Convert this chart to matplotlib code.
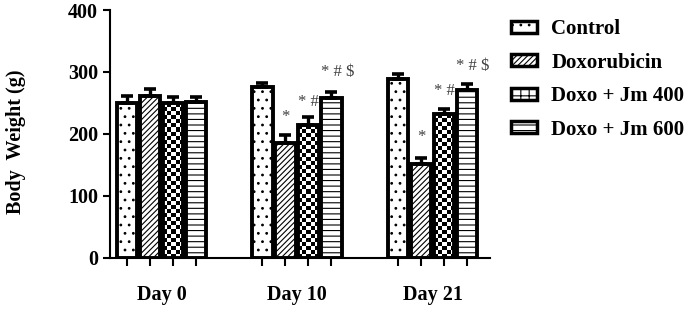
import numpy as np
import matplotlib
matplotlib.use("Agg")
import matplotlib.pyplot as plt
from matplotlib.patches import Patch

plt.rcParams['font.family'] = ['Liberation Serif', 'DejaVu Serif']
plt.rcParams['hatch.linewidth'] = 0.8

days = ["Day 0", "Day 10", "Day 21"]
groups = ["Control", "Doxorubicin", "Doxo + Jm 400", "Doxo + Jm 600"]
means = {
    "Control":       [250, 275, 288],
    "Doxorubicin":   [262, 185, 152],
    "Doxo + Jm 400": [250, 214, 232],
    "Doxo + Jm 600": [251, 258, 271],
}
errs = {
    "Control":       [11, 7, 8],
    "Doxorubicin":   [10, 13, 9],
    "Doxo + Jm 400": [10, 13, 8],
    "Doxo + Jm 600": [9, 10, 9],
}
# significance marks: (day index, group index, label)
marks = [(1, 1, "*"), (1, 2, "* #"), (1, 3, "* # $"),
         (2, 1, "*"), (2, 2, "* #"), (2, 3, "* # $")]
mark_y = {(1, 1): 228, (1, 2): 252, (1, 3): 300,
          (2, 1): 195, (2, 2): 270, (2, 3): 310}
mark_dx = {1: 0.0, 2: 0.0, 3: 0.25}

hatches = ["..", "//////", None, "---"]

fig = plt.figure(figsize=(6.92, 3.34), dpi=100)
ax = fig.add_axes([0.159, 0.228, 0.549, 0.742])

gstep = 5.89
width = 0.9
tick_pos = []
for gi, g in enumerate(groups):
    xs = np.arange(len(days)) * gstep + gi
    tick_pos.extend(xs)
    fc = "none" if hatches[gi] is None else "white"
    bars = ax.bar(xs, means[g], width=width, facecolor=fc, edgecolor="black",
                  linewidth=2.8, hatch=hatches[gi], zorder=2)
    ax.errorbar(xs, means[g], yerr=[np.zeros(len(days)), errs[g]], fmt="none",
                ecolor="black", elinewidth=2.4, capsize=4, capthick=2.6, zorder=3)
    if hatches[gi] is None:
        for b in bars:
            x0, w, h = b.get_x(), b.get_width(), b.get_height()
            ncol = 5
            nrow = max(1, int(round(h / 6.5)))
            board = (np.indices((nrow, ncol)).sum(axis=0) % 2).astype(float)
            im = ax.imshow(board, cmap="gray", interpolation="nearest", aspect="auto",
                           extent=(x0, x0 + w, 0, h), origin="lower", zorder=1.9,
                           vmin=0, vmax=1)
            im.set_clip_path(b)

for (d, gi, lab) in marks:
    x = d * gstep + gi + mark_dx[gi]
    ax.text(x, mark_y[(d, gi)], lab, ha="center", va="center", fontsize=12,
            color="#404040")

ax.set_xlim(-0.74, 15.78)
ax.set_ylim(0, 400)
ax.set_yticks([0, 100, 200, 300, 400])
ax.set_xticks(tick_pos)
ax.set_xticklabels([])
ax.tick_params(axis="x", direction="out", length=6, width=1.5)
ax.tick_params(axis="y", direction="out", length=5, width=1.5, labelsize=14.5)
for lab in ax.get_yticklabels():
    lab.set_fontweight("bold")
for s in ["top", "right"]:
    ax.spines[s].set_visible(False)
for s in ["left", "bottom"]:
    ax.spines[s].set_linewidth(1.5)
ax.set_ylabel("Body  Weight (g)", fontsize=14.5, fontweight="bold", labelpad=30)
ax.yaxis.label.set_y(0.47)

for d, day in enumerate(days):
    ax.text(d * gstep + 1.5, -0.15, day, transform=ax.get_xaxis_transform(),
            ha="center", va="center", fontsize=14.5, fontweight="bold")

handles = [Patch(facecolor="white", edgecolor="black", linewidth=2.5,
                 hatch=hatches[i] if hatches[i] else "++")
           for i in range(len(groups))]
leg = fig.legend(handles, groups, loc="upper left", bbox_to_anchor=(0.738, 0.943),
                 frameon=False, prop={"size": 15, "weight": "bold"},
                 borderpad=0, borderaxespad=0,
                 handlelength=1.25, handleheight=0.5, labelspacing=0.65, handletextpad=0.7)

fig.savefig("out.png", dpi=100)
